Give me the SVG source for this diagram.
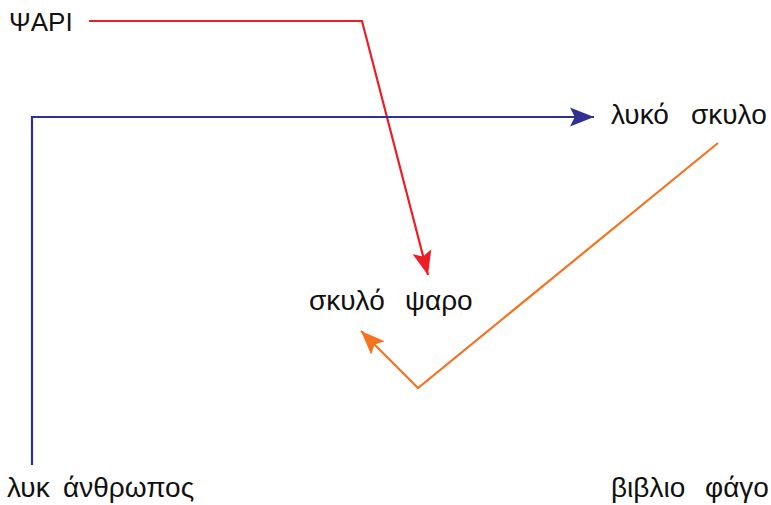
<svg xmlns="http://www.w3.org/2000/svg" width="771" height="505" viewBox="0 0 771 505">
<style>
text{font-family:"Liberation Sans",Arial,sans-serif;font-size:28px;fill:#111}
.c{fill:none;stroke-width:2.2}
</style>
<defs>
<marker id="ared" viewBox="0 0 10 10" refX="10" refY="5" markerWidth="24" markerHeight="24" markerUnits="userSpaceOnUse" orient="auto"><path d="M0,1 L10,5 L0,9 L2,5 z" fill="#ee1c25"/></marker>
<marker id="ablue" viewBox="0 0 10 10" refX="10" refY="5" markerWidth="24" markerHeight="24" markerUnits="userSpaceOnUse" orient="auto"><path d="M0,1 L10,5 L0,9 L2,5 z" fill="#2e3192"/></marker>
<marker id="aor" viewBox="0 0 10 10" refX="10" refY="5" markerWidth="24" markerHeight="24" markerUnits="userSpaceOnUse" orient="auto"><path d="M0,1 L10,5 L0,9 L2,5 z" fill="#f47321"/></marker>
</defs>
<g id="connectors">
<polyline class="c" points="89,21 362,21 428,275" stroke="#ee1c25" marker-end="url(#ared)"/>
<polyline class="c" points="32,465 32,117 594,117" stroke="#2e3192" marker-end="url(#ablue)"/>
<polyline class="c" points="718,143 418,388 361,331" stroke="#f47321" marker-end="url(#aor)"/>
</g>
<g id="psari"><text x="9" y="31" style="font-size:26px">ΨΑΡΙ</text></g>
<g id="lyko-skylo"><text y="124"><tspan x="611">λυκό</tspan> <tspan x="691">σκυλο</tspan></text></g>
<g id="skylo-psaro"><text y="310"><tspan x="309">σκυλό</tspan> <tspan x="405">ψαρο</tspan></text></g>
<g id="lyk-anthropos"><text y="497"><tspan x="7">λυκ</tspan> <tspan x="63">άνθρωπος</tspan></text></g>
<g id="vivlio-fago"><text y="497"><tspan x="611">βιβλιο</tspan> <tspan x="705">φάγο</tspan></text></g>
</svg>
